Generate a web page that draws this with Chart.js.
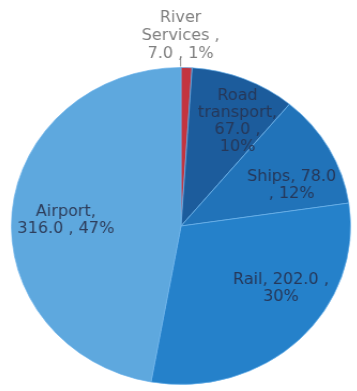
<!DOCTYPE html>
<html>
<head>
<meta charset="utf-8">
<script src="https://cdn.jsdelivr.net/npm/chart.js@4"></script>
<style>
    html, body { margin: 0; padding: 0; background: #fff; }
    #wrap { width: 357px; height: 391px; overflow: hidden; }
    #chart { transform: scaleX(1.07); transform-origin: 181px 226px; }
</style>
</head>
<body>
<div id="wrap"><canvas id="chart" width="357" height="391"></canvas></div>
<script>
var categories = ['River Services', 'Road transport', 'Ships', 'Rail', 'Airport'];
var values = [7.0, 67.0, 78.0, 202.0, 316.0];
var sliceColors = ['#c3343f', '#1c5c9c', '#2173b9', '#2581ca', '#5ea8de'];

// label styling: wrap width, angle nudge (deg), radius fraction, text colour
var labelWrap = [80, 76, 90, 100, 95];
var labelNudge = [-2, 5, 8, -12, -2];
var labelRadius = [1.2, 0.74, 0.70, 0.71, 0.68];
var labelColor = ['#7f7f7f', '#26385a', '#26385a', '#26385a', '#2e3e5c'];

var total = values.reduce(function (a, b) { return a + b; }, 0);
var labelText = categories.map(function (c, i) {
    var pct = Math.round(values[i] / total * 100);
    return c + ', ' + values[i].toFixed(1) + ' , ' + pct + '%';
});
labelText[0] = categories[0] + ' , ' + values[0].toFixed(1) + ' , ' + Math.round(values[0] / total * 100) + '%';

function wrapText(ctx, text, maxW) {
    var words = text.split(' ');
    var lines = [];
    var line = '';
    words.forEach(function (w) {
        var test = line ? line + ' ' + w : w;
        if (line && ctx.measureText(test).width > maxW) {
            lines.push(line);
            line = w;
        } else {
            line = test;
        }
    });
    if (line) lines.push(line);
    return lines;
}

var sliceLabels = {
    id: 'sliceLabels',
    afterDatasetsDraw: function (chart) {
        var ctx = chart.ctx;
        var meta = chart.getDatasetMeta(0);
        ctx.save();
        ctx.font = '15px "DejaVu Sans", Verdana, sans-serif';
        ctx.textAlign = 'center';
        ctx.textBaseline = 'middle';
        meta.data.forEach(function (arc, i) {
            var p = arc.getProps(['x', 'y', 'startAngle', 'endAngle', 'outerRadius'], true);
            var mid = (p.startAngle + p.endAngle) / 2 + labelNudge[i] * Math.PI / 180;
            var r = p.outerRadius * labelRadius[i];
            var cx = p.x + Math.cos(mid) * r;
            var cy = p.y + Math.sin(mid) * r;
            var lines = wrapText(ctx, labelText[i], labelWrap[i]);
            var lh = i === 0 ? 18 : 17;
            if (labelRadius[i] > 1) {
                // leader line for the outside label
                ctx.strokeStyle = '#8a8a8a';
                ctx.lineWidth = 1;
                ctx.beginPath();
                ctx.moveTo(p.x + Math.cos(mid) * (p.outerRadius + 1), p.y + Math.sin(mid) * (p.outerRadius + 1));
                ctx.lineTo(p.x + Math.cos(mid) * (p.outerRadius + 9), p.y + Math.sin(mid) * (p.outerRadius + 9));
                ctx.stroke();
            }
            ctx.fillStyle = labelColor[i];
            var y0 = cy - (lines.length - 1) * lh / 2;
            lines.forEach(function (ln, k) {
                ctx.fillText(ln, cx, y0 + k * lh);
            });
        });
        ctx.restore();
    }
};

var chart = new Chart(
    document.getElementById('chart'),
    {
        type: 'pie',
        data: {
            labels: categories,
            datasets: [{
                data: values,
                backgroundColor: sliceColors,
                borderColor: 'rgba(110,180,235,0.7)',
                borderWidth: 1
            }]
        },
        options: {
            responsive: false,
            animation: false,
            layout: {
                padding: { top: 67, bottom: 6, left: 5, right: 0 }
            },
            plugins: {
                legend: { display: false },
                tooltip: { enabled: false }
            }
        },
        plugins: [sliceLabels]
    }
);
</script>
</body>
</html>
